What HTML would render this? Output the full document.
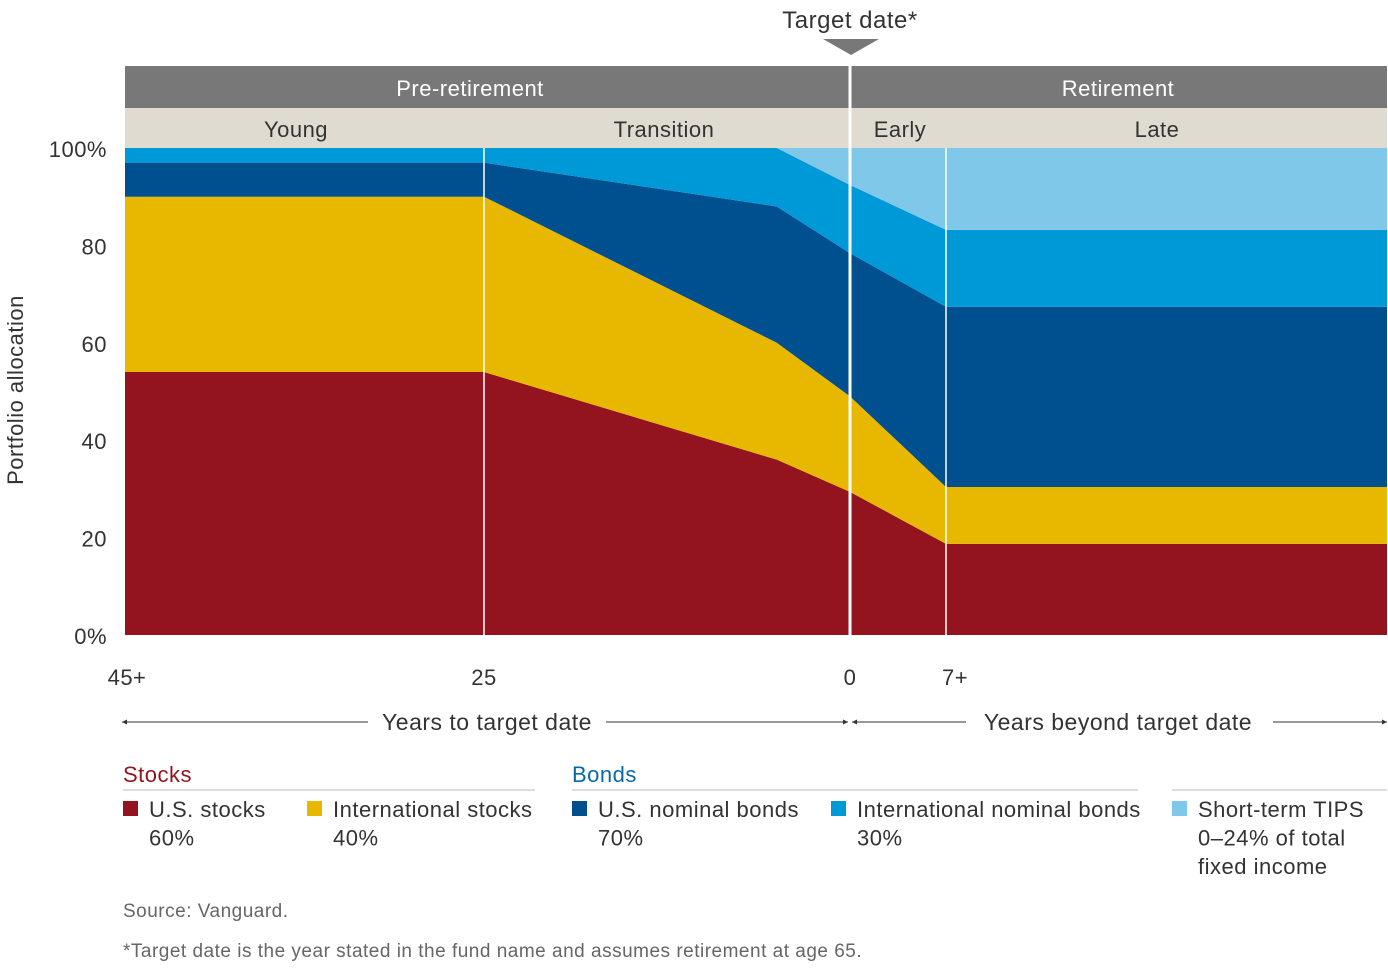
<!DOCTYPE html>
<html><head><meta charset="utf-8"><style>
body{margin:0;background:#fff;font-family:"Liberation Sans",sans-serif;}
svg text{font-family:"Liberation Sans",sans-serif;letter-spacing:0.5px;}
</style></head><body>
<svg width="1388" height="969" viewBox="0 0 1388 969">
<g id="areas"></g>
<g id="overlay"></g>
</svg>
<script>
const years = [45, 25, 5, 0, -7, -30];
const usStocks = [54, 54, 36, 29.4, 18.7, 18.7];
const intlStocks = [36, 36, 24, 19.6, 11.7, 11.7];
const usBonds = [7, 7, 28, 29.4, 37, 37];
const intlBonds = [3, 3, 12, 14, 15.8, 15.8];
const tips = [0, 0, 0, 7.6, 16.8, 16.8];
const seriesNames = ["us-stocks","intl-stocks","us-nominal-bonds","intl-nominal-bonds","short-term-tips"];
const seriesColors = ["#93141e","#e8b800","#004f8f","#0099d8","#7fc8ea"];
const yTicks = [0,20,40,60,80,100];
const yTickLabels = ["0%","20","40","60","80","100%"];

const NS="http://www.w3.org/2000/svg";
const y0=635, y100=148;
function yScale(v){return y0-(y0-y100)*v/100;}
function xScale(yr){
  if(yr>=25) return 125+(45-yr)*(484-125)/20;
  if(yr>=0) return 484+(25-yr)*(850-484)/25;
  if(yr>=-7) return 850+(-yr)*(946-850)/7;
  return 946+(-yr-7)*(1387-946)/23;
}
function el(tag,attrs,parent,text){const e=document.createElementNS(NS,tag);for(const k in attrs)e.setAttribute(k,attrs[k]);if(text!==undefined)e.textContent=text;parent.appendChild(e);return e;}
const areas=document.getElementById('areas');
const all=[usStocks,intlStocks,usBonds,intlBonds,tips];
let base=years.map(()=>0);
all.forEach((s,i)=>{
  const top=base.map((b,j)=>b+s[j]);
  let d="";
  years.forEach((yr,j)=>{d+=(j?"L":"M")+xScale(yr)+","+yScale(top[j]);});
  for(let j=years.length-1;j>=0;j--) d+="L"+xScale(years[j])+","+yScale(base[j]);
  const p=el('path',{d:d+"Z",fill:seriesColors[i]},areas);
  
  
  base=top;
});
const ov=document.getElementById('overlay');
let r=el('rect',{x:125,y:66,width:1262,height:42,fill:'#787878'},ov);

r=el('rect',{x:125,y:108,width:1262,height:40,fill:'#dfdbd0'},ov);

const hdr=[["Pre-retirement",470,96,'#fff'],["Retirement",1118,96,'#fff'],["Young",296,137,'#333'],["Transition",664,137,'#333'],["Early",900,137,'#333'],["Late",1157,137,'#333']];
hdr.forEach(h=>{const t=el('text',{x:h[1],y:h[2],'text-anchor':'middle','font-size':22,fill:h[3]},ov,h[0]);
});
el('line',{x1:xScale(25),x2:xScale(25),y1:148,y2:635,stroke:'#fff','stroke-width':1.5},ov);
el('line',{x1:xScale(-7),x2:xScale(-7),y1:148,y2:635,stroke:'#fff','stroke-width':1.5},ov);
el('line',{x1:xScale(0),x2:xScale(0),y1:66,y2:635,stroke:'#fff','stroke-width':3},ov);
let t=el('text',{x:850,y:28,'text-anchor':'middle','font-size':24,fill:'#333'},ov,'Target date*');

el('polygon',{points:'823,39 879,39 851,55',fill:'#787878'},ov);
yTicks.forEach((v,i)=>{const tt=el('text',{x:107,y:yScale(v)+9,'text-anchor':'end','font-size':22,fill:'#333'},ov,yTickLabels[i]);
});
t=el('text',{x:0,y:0,'text-anchor':'middle','font-size':22,fill:'#333','letter-spacing':'1.2',transform:'translate(23,390) rotate(-90)'},ov,'Portfolio allocation');

[["45+",127],["25",484],["0",850],["7+",955]].forEach(a=>{const tt=el('text',{x:a[1],y:685,'text-anchor':'middle','font-size':22,fill:'#333'},ov,a[0]);
});
[[122,368],[606,848],[852,966],[1273,1387]].forEach(a=>el('line',{x1:a[0],x2:a[1],y1:722,y2:722,stroke:'#333','stroke-width':1},ov));
[[122,1],[848,-1],[852,1],[1387,-1]].forEach(a=>el('polygon',{points:`${a[0]},722 ${a[0]+5*a[1]},719.5 ${a[0]+5*a[1]},724.5`,fill:'#333'},ov));
t=el('text',{x:487,y:730,'text-anchor':'middle','font-size':23,fill:'#333','letter-spacing':'0.9'},ov,'Years to target date');

t=el('text',{x:1118,y:730,'text-anchor':'middle','font-size':23,fill:'#333','letter-spacing':'0.9'},ov,'Years beyond target date');

t=el('text',{x:123,y:782,'font-size':22,fill:'#93141e'},ov,'Stocks');
t=el('text',{x:572,y:782,'font-size':22,fill:'#0a68a8'},ov,'Bonds');
[[123,535],[572,1138],[1172,1387]].forEach(a=>el('line',{x1:a[0],x2:a[1],y1:790,y2:790,stroke:'#bbb','stroke-width':1},ov));
const leg=[[123,0,["U.S. stocks","60%"]],[307,1,["International stocks","40%"]],[572,2,["U.S. nominal bonds","70%"]],[831,3,["International nominal bonds","30%"]],[1172,4,["Short-term TIPS","0–24% of total","fixed income"]]];
leg.forEach(l=>{const g=el('g',{},ov);
el('rect',{x:l[0],y:801,width:15,height:15,fill:seriesColors[l[1]]},g);
l[2].forEach((s,k)=>el('text',{x:l[0]+26,y:817+k*28.5,'font-size':22,fill:'#333'},g,s));});
t=el('text',{x:123,y:917,'font-size':19,fill:'#666','letter-spacing':'0.5'},ov,'Source: Vanguard.');
t=el('text',{x:123,y:957,'font-size':19,fill:'#666','letter-spacing':'1.05'},ov,'*Target date is the year stated in the fund name and assumes retirement at age 65.');
</script>
</body></html>
